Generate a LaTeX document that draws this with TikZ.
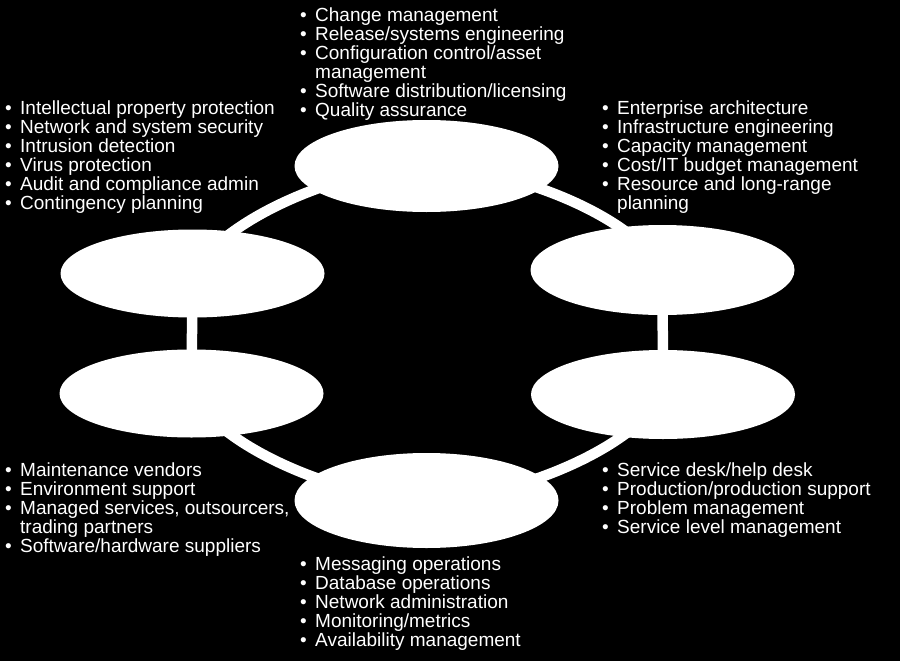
\documentclass[tikz,border=0pt]{standalone}
\usepackage{fontspec}
\setmainfont{Liberation Sans}
\usetikzlibrary{shapes.geometric,backgrounds}
\newlength\bwd
\setlength\bwd{16pt}
\newcommand\li[1]{\rule[-4pt]{0pt}{19pt}\makebox[\bwd][l]{\hspace{1pt}\textbullet}#1}
\newcommand\lc[1]{\rule[-4pt]{0pt}{19pt}\hspace{\bwd}#1}
\pgfdeclarelayer{ringlayer}
\pgfsetlayers{background,ringlayer,main}
\begin{document}
\begin{tikzpicture}[x=1pt,y=1pt,
  blob/.style={ellipse, fill=white, draw=none, inner sep=0pt, minimum width=264pt},
  ring/.style={draw=white, line width=10.5pt},
  lst/.style={anchor=north west, inner sep=0pt, align=left, text=white,
              font=\fontsize{19}{19}\selectfont}]
\begin{pgfonlayer}{background}
\fill[black] (0,0) rectangle (900,-661);
\end{pgfonlayer}
\useasboundingbox (0,0) rectangle (900,-661);

% ellipses
\node[blob, minimum height=92pt] (top) at (426.5,-166) {};
\node[blob, minimum height=88pt] (lu)  at (192.5,-273.5) {};
\node[blob, minimum height=88pt] (ll)  at (191.5,-393.5) {};
\node[blob, minimum height=95pt] (bot) at (426.5,-500.5) {};
\node[blob, minimum height=89pt] (rl)  at (663,-394.5) {};
\node[blob, minimum height=90pt] (ru)  at (662.5,-270) {};

% ring connectors
\begin{pgfonlayer}{ringlayer}
\draw[ring] (top.center) to[out=180,in=60,looseness=0.7] (lu.center);
\draw[ring] (lu.center) -- (ll.center);
\draw[ring] (ll.center) to[out=-60,in=180,looseness=0.7] (bot.center);
\draw[ring] (bot.center) to[out=0,in=-120,looseness=0.7] (rl.center);
\draw[ring] (rl.center) -- (ru.center);
\draw[ring] (ru.center) to[out=120,in=0,looseness=0.7] (top.center);
\end{pgfonlayer}

% text lists
\node[lst] (ttop) at (299,-6) {%
\li{Change management}\\
\li{Release/systems engineering}\\
\li{Configuration control/asset}\\
\lc{management}\\
\li{Software distribution/licensing}\\
\li{Quality assurance}};

\node[lst] (tlu) at (4,-99) {%
\li{Intellectual property protection}\\
\li{Network and system security}\\
\li{Intrusion detection}\\
\li{Virus protection}\\
\li{Audit and compliance admin}\\
\li{Contingency planning}};

\node[lst] (tru) at (601,-99) {%
\li{Enterprise architecture}\\
\li{Infrastructure engineering}\\
\li{Capacity management}\\
\li{Cost/IT budget management}\\
\li{Resource and long-range}\\
\lc{planning}};

\node[lst] (tll) at (4,-461) {%
\li{Maintenance vendors}\\
\li{Environment support}\\
\li{Managed services, outsourcers,}\\
\lc{trading partners}\\
\li{Software/hardware suppliers}};

\node[lst] (trl) at (601,-461) {%
\li{Service desk/help desk}\\
\li{Production/production support}\\
\li{Problem management}\\
\li{Service level management}};

\node[lst] (tbot) at (299,-555) {%
\li{Messaging operations}\\
\li{Database operations}\\
\li{Network administration}\\
\li{Monitoring/metrics}\\
\li{Availability management}};
\end{tikzpicture}
\end{document}
